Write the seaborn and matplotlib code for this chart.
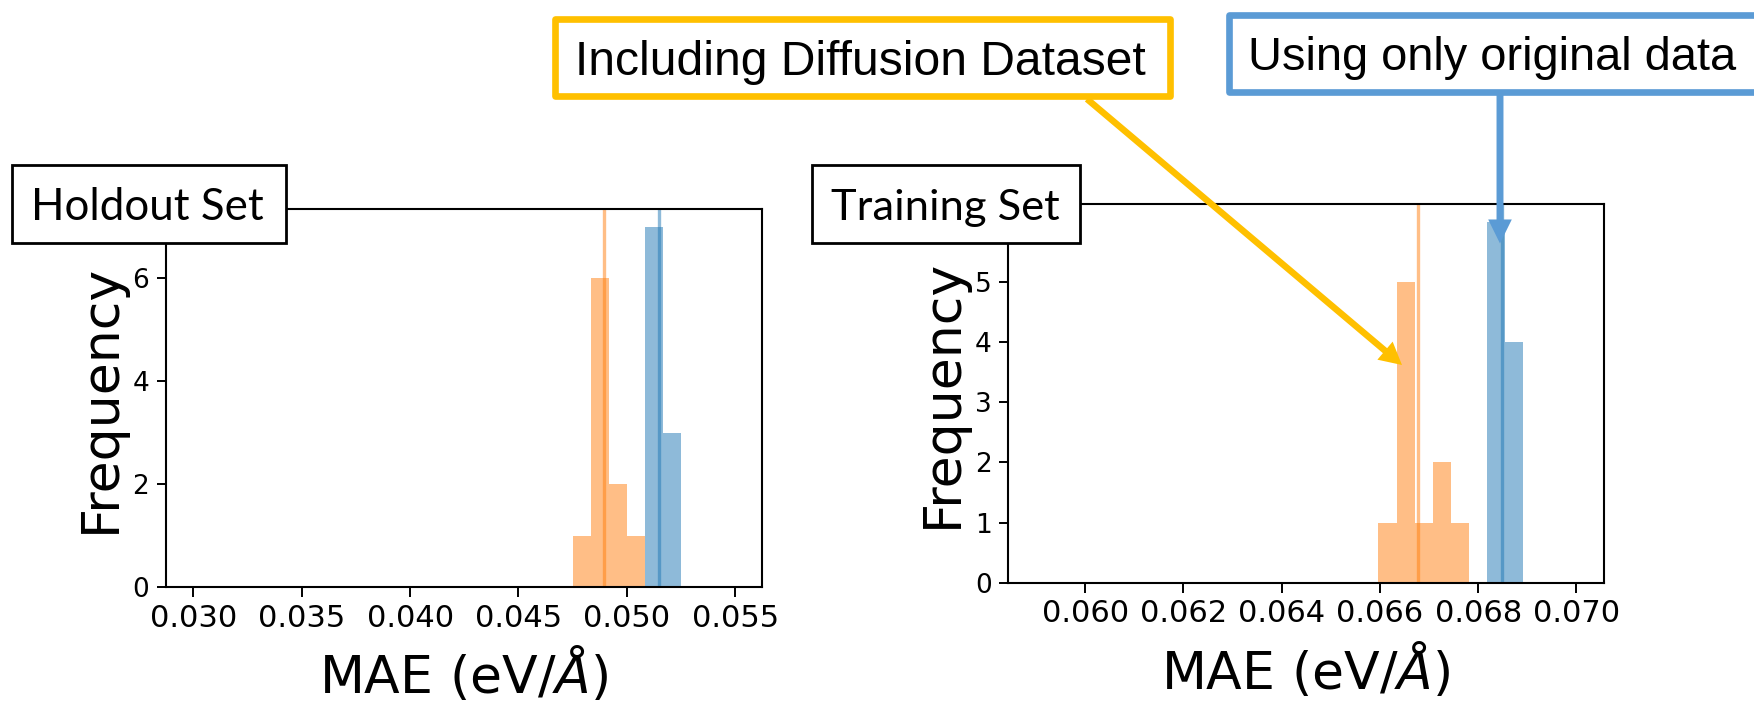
import numpy as np
import pandas as pd
import matplotlib
matplotlib.use("Agg")
import matplotlib.pyplot as plt
import seaborn as sns
from matplotlib.patches import Rectangle, FancyArrowPatch

# ---------------- data ----------------
series_names = ["Including Diffusion Dataset", "Using only original data"]

holdout_edges = [0.04750, 0.04833, 0.04917, 0.05000, 0.05083, 0.05167, 0.05250]
holdout_diffusion_counts = [1, 6, 2, 1, 0, 0]
holdout_original_counts = [0, 0, 0, 0, 7, 3]
holdout_means = [0.04896, 0.05147]          # diffusion, original
holdout_xticks = [0.030, 0.035, 0.040, 0.045, 0.050, 0.055]
holdout_yticks = [0, 2, 4, 6]
holdout_xlim = (0.02872, 0.05623)
holdout_ylim = (0, 7.35)

training_edges = [0.06597, 0.06634, 0.06671, 0.06707, 0.06744,
                  0.06781, 0.06818, 0.06855, 0.06892]
training_diffusion_counts = [1, 5, 1, 2, 1, 0, 0, 0]
training_original_counts = [0, 0, 0, 0, 0, 0, 6, 4]
training_means = [0.06678, 0.06849]
training_xticks = [0.060, 0.062, 0.064, 0.066, 0.068, 0.070]
training_yticks = [0, 1, 2, 3, 4, 5]
training_xlim = (0.05843, 0.07056)
training_ylim = (0, 6.3)

panel_titles = ["Holdout Set", "Training Set"]
x_label = r"MAE (eV/$\AA$)"
y_label = "Frequency"

colors = {series_names[0]: "#ff7f0e", series_names[1]: "#1f77b4"}

# ---------------- figure ----------------
sns.set_style("ticks")
plt.rcParams["font.family"] = ["DejaVu Sans"]
plt.rcParams["text.color"] = "black"
plt.rcParams["axes.labelcolor"] = "black"
plt.rcParams["xtick.color"] = "black"
plt.rcParams["ytick.color"] = "black"
plt.rcParams["axes.edgecolor"] = "black"

W, H = 1754, 701
fig = plt.figure(figsize=(W / 100, H / 100), dpi=100)


def fx(x):
    return x / W


def fy(y):
    return 1 - y / H


def make_df(edges, c_diff, c_orig):
    centers = [(edges[i] + edges[i + 1]) / 2 for i in range(len(edges) - 1)]
    rows = []
    for c, n in zip(centers, c_diff):
        rows.append({"mae": c, "count": n, "series": series_names[0]})
    for c, n in zip(centers, c_orig):
        rows.append({"mae": c, "count": n, "series": series_names[1]})
    return pd.DataFrame(rows)


panels = [
    dict(rect=[fx(165.5), fy(587), fx(762) - fx(165.5), fy(209) - fy(587)],
         edges=holdout_edges, cd=holdout_diffusion_counts, co=holdout_original_counts,
         means=holdout_means, xticks=holdout_xticks, yticks=holdout_yticks,
         xlim=holdout_xlim, ylim=holdout_ylim),
    dict(rect=[fx(1008), fy(582.7), fx(1604) - fx(1008), fy(203.5) - fy(582.7)],
         edges=training_edges, cd=training_diffusion_counts, co=training_original_counts,
         means=training_means, xticks=training_xticks, yticks=training_yticks,
         xlim=training_xlim, ylim=training_ylim),
]

for p in panels:
    ax = fig.add_axes(p["rect"])
    df = make_df(p["edges"], p["cd"], p["co"])
    sns.histplot(data=df, x="mae", weights="count", hue="series", bins=p["edges"],
                 palette=colors, alpha=0.5, linewidth=0, legend=False,
                 multiple="layer", ax=ax)
    for name, m in zip(series_names, p["means"]):
        ax.axvline(m, color=colors[name], alpha=0.5, lw=2.4)
    ax.set_xlim(*p["xlim"])
    ax.set_ylim(*p["ylim"])
    ax.set_xticks(p["xticks"])
    ax.set_xticklabels([f"{t:.3f}" for t in p["xticks"]])
    ax.set_yticks(p["yticks"])
    ax.set_yticklabels([str(t) for t in p["yticks"]])
    ax.tick_params(axis="x", labelsize=22, length=7, width=1.4, pad=5, colors="black")
    ax.tick_params(axis="y", labelsize=19, length=6.7, width=1.4, pad=5, colors="black")
    for s in ax.spines.values():
        s.set_linewidth(1.5)
        s.set_color("black")
    ax.set_xlabel(x_label, fontsize=37.5, labelpad=9, color="black")
    ax.set_ylabel(y_label, fontsize=37.5, labelpad=5, color="black")

renderer = fig.canvas.get_renderer()


def fit_text(xc, ybase, s, target_w, family, ha="center"):
    t = fig.text(fx(xc), fy(ybase), s, fontsize=30, family=family, ha=ha,
                 va="baseline", zorder=20, color="black")
    w = t.get_window_extent(renderer).width
    t.set_fontsize(30 * target_w / w)
    return t


# panel label boxes (drawn over the top-left corner of each axes)
label_boxes = [(12.3, 165, 285.7, 243.3, 147.5, 220, 232),
               (812, 165, 1080, 242.7, 945.5, 220, 228)]
for (x0, y0, x1, y1, xc, yb, tw), title in zip(label_boxes, panel_titles):
    fig.add_artist(Rectangle((fx(x0), fy(y1)), fx(x1) - fx(x0), fy(y0) - fy(y1),
                             transform=fig.transFigure, facecolor="white",
                             edgecolor="black", lw=2, zorder=15))
    fit_text(xc, yb, title, tw, ["Lato", "DejaVu Sans"])

# series call-out boxes
yellow = "#FFC000"
blue = "#5B9BD5"
fig.add_artist(Rectangle((fx(555), fy(96)), fx(1170) - fx(555), fy(19) - fy(96),
                         transform=fig.transFigure, facecolor="white",
                         edgecolor=yellow, lw=4.8, zorder=15, joinstyle="round"))
fit_text(860, 75, series_names[0], 568, ["Liberation Sans", "DejaVu Sans"])

fig.add_artist(Rectangle((fx(1228.5), fy(91.5)), fx(1770) - fx(1228.5), fy(15) - fy(91.5),
                         transform=fig.transFigure, facecolor="white",
                         edgecolor=blue, lw=4.8, zorder=15, joinstyle="round"))
fit_text(1248, 70, series_names[1], 488, ["Liberation Sans", "DejaVu Sans"], ha="left")

# arrows
fig.add_artist(FancyArrowPatch((fx(1087), fy(99)), (fx(1402), fy(365)),
                               transform=fig.transFigure,
                               arrowstyle="simple,head_length=16,head_width=17,tail_width=4.7",
                               mutation_scale=1, shrinkA=0, shrinkB=0,
                               color=yellow, lw=0, zorder=16))
fig.add_artist(FancyArrowPatch((fx(1500), fy(95)), (fx(1500), fy(243.5)),
                               transform=fig.transFigure,
                               arrowstyle="simple,head_length=17.3,head_width=17,tail_width=5",
                               mutation_scale=1, shrinkA=0, shrinkB=0,
                               color=blue, lw=0, zorder=16))

fig.savefig("out.png", dpi=100)
